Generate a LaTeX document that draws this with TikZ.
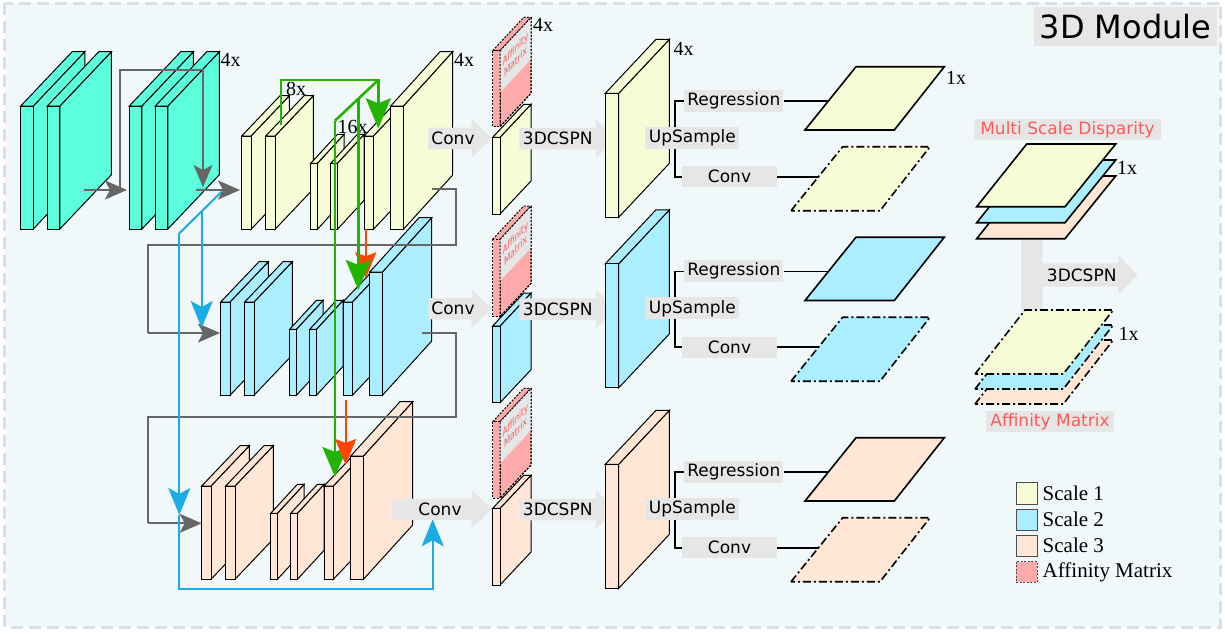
\documentclass[tikz,border=0pt]{standalone}
\usepackage{fontspec}
\setmainfont{Liberation Serif}
\newfontfamily\djs{DejaVu Sans}
\usetikzlibrary{arrows.meta}

\definecolor{teal1}{HTML}{5BFFDC}
\definecolor{scaleA}{HTML}{F5FCD6}
\definecolor{scaleB}{HTML}{AAEEFF}
\definecolor{scaleC}{HTML}{FFE6D5}
\definecolor{affpink}{HTML}{FFAAAA}
\definecolor{affText}{HTML}{FF5A5A}
\definecolor{boxgray}{HTML}{E6E6E6}
\definecolor{framebg}{HTML}{F1F8FA}
\definecolor{frameline}{HTML}{D8E0E5}
\definecolor{loopgray}{HTML}{666666}
\definecolor{grn}{HTML}{22B400}
\definecolor{blu}{HTML}{1BACE3}
\definecolor{rd}{HTML}{FF4500}

% x, ytop, w, h, dx, dy, style
\newcommand{\slab}[7]{%
  \filldraw[slabline,#7] (#1+#3,#2) -- ++(#5,-#6) -- ++(0,#4) -- ++(-#5,#6) -- cycle;
  \filldraw[slabline,#7] (#1,#2) -- ++(#5,-#6) -- ++(#3,0) -- ++(-#5,#6) -- cycle;
  \filldraw[slabline,#7] (#1,#2) rectangle ++(#3,#4);}

% x1, xtip, ycenter
\newcommand{\blockarrow}[3]{%
  \fill[boxgray] (#1,#3-10.7) -- (#2-20,#3-10.7) -- (#2-20,#3-19.2) -- (#2,#3)
     -- (#2-20,#3+19.2) -- (#2-20,#3+10.7) -- (#1,#3+10.7) -- cycle;}

% encoder row of six slabs
\newcommand{\encrow}[1]{%
  \slab{241.7}{136}{9.3}{93.3}{38.3}{40.3}{fill=#1}
  \slab{265.7}{136}{9.3}{93.3}{38.3}{40.3}{fill=#1}
  \slab{310.7}{163.3}{6.7}{66}{26.7}{29}{fill=#1}
  \slab{330.7}{163.3}{6.7}{66}{26.7}{29}{fill=#1}
  \slab{364}{136}{9.3}{93.3}{38.3}{40.3}{fill=#1}
  \slab{390.7}{106}{12.7}{123.3}{49.3}{54.3}{fill=#1}}

% affinity slab: ytop, h, id
\newcommand{\affslab}[3]{%
  \slab{492.7}{#1}{7.3}{#2}{31}{33.3}{fill=affpink,dash pattern=on 2pt off 1.5pt}
  \begin{scope}[shift={(515.5,#1+4.25)},yslant=1.074]
    \node[transform shape, xscale=0.66, fill=boxgray, inner sep=0pt, minimum width=47pt,
      minimum height=41.8pt, text=affText, align=center,
      font=\djs\fontsize{11}{12.5}\selectfont] (aff#3) {Affinity\\Matrix};
  \end{scope}
  \draw[slabline,dash pattern=on 2pt off 1.5pt] (500,#1) -- ++(31,-33.3) -- ++(0,#2) -- ++(-31,33.3) -- cycle;}

% output row: offset, fill, id
\newcommand{\outrow}[3]{%
  \blockarrow{519.3}{616}{138.6+#1}
  \node[sanslbl] (csp#3) at (557.7,138.6+#1) {3DCSPN};
  \slab{605.3}{93.3+#1}{13.4}{124}{50.7}{54}{fill=#2}
  \node[graybox, minimum width=99pt, minimum height=21.7pt] (reg#3) at (733.8,100.8+#1) {Regression};
  \node[graybox, minimum width=94.4pt, minimum height=21.3pt] (cv#3) at (729.5,176.7+#1) {Conv};
  \draw[bracket] (reg#3.west) -- (675,100.8+#1) -- (675,176.7+#1) -- (cv#3.west);
  \node[graybox, minimum width=94pt, minimum height=22.3pt] (up#3) at (692.3,137.8+#1) {UpSample};
  \draw[parasolid, fill=#2] (805,130+#1) -- (856,66.7+#1) -- (944.3,66.7+#1) -- (894.3,130+#1) -- cycle;
  \draw[paradash, fill=#2] (791,210.7+#1) -- (842.7,146.7+#1) -- (930,146.7+#1) -- (880,210.7+#1) -- cycle;
  \coordinate (pa#3) at (827.8,100.8+#1);
  \coordinate (pb#3) at (818.5,176.7+#1);
  \draw[bracket] (reg#3.east) -- (pa#3);
  \draw[bracket] (cv#3.east) -- (pb#3);}

\begin{document}
\begin{tikzpicture}[x=1pt,y=-1pt,
  slabline/.style={draw=black, line width=1pt, line join=miter},
  sanslbl/.style={font=\djs\fontsize{17}{20}\selectfont, inner sep=0pt},
  graybox/.style={fill=boxgray, inner sep=0pt, font=\djs\fontsize{17}{20}\selectfont},
  pinkbox/.style={fill=boxgray, inner sep=0pt, text=affText, font=\djs\fontsize{17}{20}\selectfont},
  numlbl/.style={font=\fontsize{20}{22}\selectfont, inner sep=0pt},
  serifleg/.style={font=\fontsize{21}{23}\selectfont, inner sep=0pt},
  bracket/.style={draw=black, line width=1.6pt},
  parasolid/.style={draw=black, line width=1.6pt, line join=miter},
  paradash/.style={draw=black, line width=1.6pt, dash pattern=on 8pt off 3pt on 2pt off 3pt},
  grayarrow/.style={draw=loopgray, line width=2.2pt, -{Stealth[length=22pt,width=19pt,inset=5pt]}},
  grayline/.style={draw=loopgray, line width=2.2pt},
  greenarrow/.style={draw=grn, line width=2.6pt, -{Stealth[length=30pt,width=25pt,inset=5pt]}},
  greenline/.style={draw=grn, line width=2.6pt},
  bluearrow/.style={draw=blu, line width=2pt, -{Stealth[length=27pt,width=22pt,inset=6pt]}},
  redarrow/.style={draw=rd, line width=2pt, -{Stealth[length=26pt,width=21pt,inset=4pt]}},
  legbox/.style={draw=black!70, line width=0.9pt}]
\useasboundingbox (0,0) rectangle (1225,633);

% frame
\filldraw[fill=framebg, draw=frameline, line width=3pt, dash pattern=on 12pt off 6pt] (4.5,3) rectangle (1220.5,627);
\node[graybox, font=\djs\fontsize{32}{36}\selectfont, minimum width=182.4pt, minimum height=39pt] (title) at (1125.5,26.2) {3D Module};

% input teal slabs
\slab{20.7}{106}{12.6}{123}{51.5}{54.3}{fill=teal1}
\slab{47.3}{106}{12.6}{123}{51.5}{54.3}{fill=teal1}
\slab{129.3}{106}{12.6}{123}{51.5}{54.3}{fill=teal1}
\slab{155.3}{106}{12.6}{123}{51.5}{54.3}{fill=teal1}
\node[numlbl] (n4a) at (230.5,60) {4x};

% encoder rows
\encrow{scaleA}
\begin{scope}[shift={(-21,166)}]\encrow{scaleB}\end{scope}
\begin{scope}[shift={(-40,350)}]\encrow{scaleC}\end{scope}
\node[numlbl] (n8) at (296,88.5) {8x};
\node[numlbl] (n16) at (352.5,126.5) {16x};
\node[numlbl] (n4b) at (464,59.5) {4x};

% named points for connectors
\coordinate (t2o) at (84,190);   \coordinate (t3i) at (127,190);
\coordinate (j1) at (120,190);   \coordinate (t4d) at (203,187);
\coordinate (t4o) at (196,190);  \coordinate (y1i) at (240,190);
\coordinate (y6o) at (431.7,189); \coordinate (b1i) at (220,333);
\coordinate (b6o) at (421.7,333.3); \coordinate (o1i) at (201.7,523.3);
\coordinate (bs) at (221.7,191.7); \coordinate (bk) at (179.3,233.3);
\coordinate (bj) at (201.7,211.3); \coordinate (bb) at (201.7,328);
\coordinate (bm) at (179.3,515);  \coordinate (bc) at (432.7,519.3);
\coordinate (g1s) at (281,125);   \coordinate (g1e) at (378.3,128.3);
\coordinate (gt) at (378.3,80);   \coordinate (gk) at (335,120.7);
\coordinate (g2e) at (335,477);   \coordinate (g3s) at (358.3,98.8);
\coordinate (g3e) at (358.3,290);
\coordinate (r1s) at (365.7,229.3); \coordinate (r1e) at (365.7,278.3);
\coordinate (r2s) at (345.7,400);   \coordinate (r2e) at (345.7,465);

% gray skip loops
\draw[grayline] (y6o) -- (456,189) -- (456,245) -- (147.7,245) -- (147.7,333);
\draw[grayarrow] (147.7,333) -- (b1i);
\draw[grayline] (b6o) -- (456,333.3) -- (456,417.3) -- (148,417.3) -- (148,523.3);
\draw[grayarrow] (148,523.3) -- (o1i);

% blue paths
\draw[draw=blu, line width=2pt] (bs) -- (bk);
\draw[bluearrow] (bk) -- (bm);
\draw[bluearrow] (bj) -- (bb);
\draw[bluearrow] (bm) -- (179.3,589.3) -- (432.7,589.3) -- (bc);

% red and green
\draw[redarrow] (r1s) -- (r1e);
\draw[greenarrow] (g1s) -- (281,80) -- (gt) -- (g1e);
\draw[greenline] (gt) -- (gk);
\draw[greenarrow] (gk) -- (g2e);
\draw[greenarrow] (g3s) -- (g3e);
\draw[redarrow] (r2s) -- (r2e);

% gray arrows in row 1
\draw[grayarrow] (t2o) -- (t3i);
\draw[grayarrow] (j1) -- (120,70) -- (203,70) -- (t4d);
\draw[grayarrow] (t4o) -- (y1i);

% conv arrows
\blockarrow{428.3}{491.7}{138.3}
\node[sanslbl] (cva) at (453,138.3) {Conv};
\blockarrow{428.3}{491.7}{308.7}
\node[sanslbl] (cvb) at (453,308.7) {Conv};
\blockarrow{391.7}{491.7}{509.2}
\node[sanslbl] (cvc) at (440,509.2) {Conv};

% affinity and small slabs
\affslab{50.7}{76}{a}
\slab{492.7}{137.3}{7.3}{76.7}{31}{33}{fill=scaleA}
\affslab{239.3}{77.4}{b}
\slab{492.7}{326}{7.3}{76.7}{31}{33}{fill=scaleB}
\affslab{421.7}{76.6}{c}
\slab{492.7}{508.3}{7.3}{76.7}{31}{33}{fill=scaleC}
\node[numlbl] (n4c) at (543,25) {4x};

% output rows
\outrow{0}{scaleA}{a}
\outrow{170.5}{scaleB}{b}
\outrow{371}{scaleC}{c}
\node[numlbl] (n4d) at (683.5,49) {4x};
\node[numlbl] (n1a) at (956,78) {1x};

% multi-scale panel
\node[pinkbox, minimum width=186.4pt, minimum height=21pt] (msd) at (1067.5,129.5) {Multi Scale Disparity};
\fill[boxgray] (1021,234) -- (1042.7,234) -- (1042.7,263.3) -- (1118.3,263.3) -- (1118.3,255) -- (1137.7,275)
  -- (1118.3,294.5) -- (1118.3,286.7) -- (1042.7,286.7) -- (1042.7,310) -- (1021,310) -- cycle;
\node[sanslbl] (csr) at (1081.7,275) {3DCSPN};
\foreach \s/\c in {32/scaleC,16/scaleB,0/scaleA}{
  \draw[parasolid, fill=\c, shift={(0,\s)}] (976.7,206.7) -- (1026.7,144) -- (1115.7,144) -- (1065,206.7) -- cycle;}
\foreach \s/\c in {30/scaleC,15/scaleB,0/scaleA}{
  \draw[paradash, fill=\c, shift={(0,\s)}] (975,374) -- (1025,310) -- (1113.3,310) -- (1063.3,374) -- cycle;}
\node[numlbl] (n1b) at (1127,167.5) {1x};
\node[numlbl] (n1c) at (1128.5,334) {1x};
\node[pinkbox, minimum width=128pt, minimum height=21.3pt] (afl) at (1050,421.7) {Affinity Matrix};

% legend
\draw[legbox, fill=scaleA] (1016,482.7) rectangle (1037.3,504);
\node[serifleg, anchor=west] (l1) at (1042.5,493.4) {Scale 1};
\draw[legbox, fill=scaleB] (1016,509) rectangle (1037.3,530);
\node[serifleg, anchor=west] (l2) at (1042.5,519.5) {Scale 2};
\draw[legbox, fill=scaleC] (1016,535) rectangle (1037.3,556);
\node[serifleg, anchor=west] (l3) at (1042.5,545.5) {Scale 3};
\draw[legbox, fill=affpink, dash pattern=on 2pt off 1.5pt] (1016,561.7) rectangle (1037.3,582.3);
\node[serifleg, anchor=west] (l4) at (1042.5,572) {Affinity Matrix};
\end{tikzpicture}
\end{document}
